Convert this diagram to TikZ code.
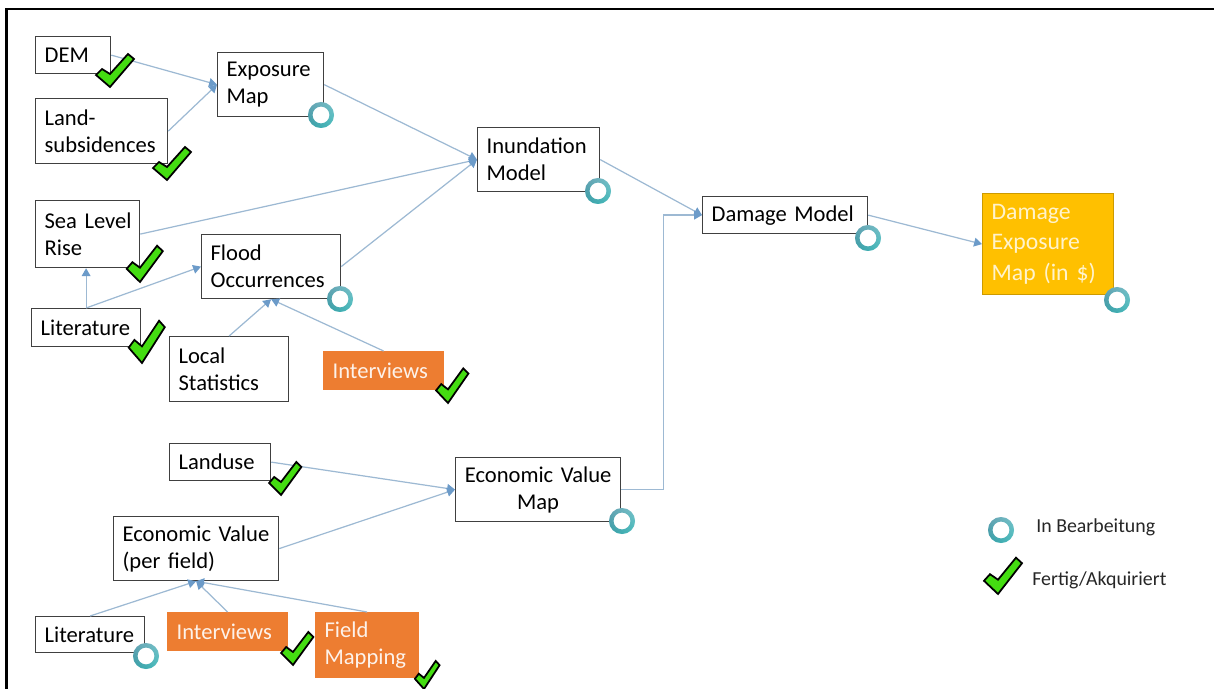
\documentclass[tikz,border=0pt]{standalone}
\usepackage{fontspec}
\setmainfont{Carlito}
\definecolor{linkblue}{HTML}{9DB9D3}
\definecolor{tipblue}{HTML}{6C9BC9}
\definecolor{boxorange}{HTML}{ED7D31}
\definecolor{boxgold}{HTML}{FFC000}
\definecolor{tickgreen}{HTML}{44DD11}
\definecolor{ringdark}{HTML}{2A8494}
\definecolor{ringlight}{HTML}{B0C8D8}
\definecolor{ringbottom}{HTML}{48BDBD}
\usetikzlibrary{arrows.meta}
\tikzset{
	box/.style 2 args={draw=black!75, fill=white, line width=.7pt, inner xsep=9*.02cm, inner ysep=0pt, align=left, anchor=north west,
		text width=(#1-18)*.02cm, minimum height=#2*.02cm, font=\fontsize{12.85}{15.4}\selectfont},
	orangebox/.style={fill=boxorange, draw=boxorange, text=white!90!boxorange},
	goldbox/.style={fill=boxgold, draw=boxgold!80!black, text=white!80!boxgold},
	link/.style={draw=linkblue, line width=.7pt, -{Stealth[inset=0pt,length=4.5pt,width=5pt,color=tipblue]}},
	tick/.pic={\filldraw[fill=tickgreen, draw=black, line width=1pt, line join=miter]
		(0,0) -- (-14,-12) -- (-8,-18) -- (0,-13) -- (18,-33) -- (24,-28) -- cycle;},
	ring/.pic={\fill[white] (0,0) circle (9);
		\shade[even odd rule, top color=ringlight, bottom color=ringbottom] (0,0) circle (13) (0,0) circle (8.5);
		\shade[even odd rule, left color=ringdark, right color=ringbottom, opacity=.55] (0,0) circle (13) (0,0) circle (8.5);},
	legendtext/.style={font=\fontsize{11.3}{13}\selectfont, text=black!85, anchor=west, inner sep=0pt}
}
\begin{document}
\begin{tikzpicture}[x=.02cm, y=-.02cm]
	\useasboundingbox (0,0) rectangle (1214,689);
	\begin{scope}
		\clip (0,0) rectangle (1214,689);
		\draw[line width=1.2pt] (6.5,700) -- (6.5,9.3) -- (1220,9.3);

		% input boxes
		\node[box={75}{37}] (dem) at (35,36) {DEM};
		\node[box={132}{65}] (land) at (35,98) {Land-\\subsidences};
		\node[box={106}{64}] (exposure) at (217,52) {Exposure\\Map};
		\node[box={122}{64}] (inundation) at (477,127) {Inundation\\Model};
		\node[box={104}{67}] (sealevel) at (35,200) {Sea~Level\\Rise};
		\node[box={139}{64}] (flood) at (201,234) {Flood\\Occurrences};
		\node[box={109}{38}] (litone) at (31,308) {Literature};
		\node[box={119}{65}] (statistics) at (169,336) {Local\\Statistics};
		\node[box={120}{38},orangebox] (intone) at (323,351) {Interviews};

		% value boxes
		\node[box={101}{37}] (landuse) at (169,443) {Landuse};
		\node[box={165}{64},align=center] (valuemap) at (455,457) {Economic Value\\Map};
		\node[box={165}{64}] (value) at (113,516) {Economic Value\\(per field)};
		\node[box={109}{36}] (littwo) at (35,616) {Literature};
		\node[box={120}{38},orangebox] (inttwo) at (167,612) {Interviews};
		\node[box={103}{65},orangebox] (mapping) at (315,612) {Field\\Mapping};

		% results
		\node[box={165}{37}] (damage) at (702,196) {Damage Model};
		\node[box={131}{101},goldbox,font=\fontsize{13.5}{17.2}\selectfont] (result) at (982,193) {Damage\\Exposure\\Map (in \$)};

		\draw[link] (dem.east) -- (exposure.west);
		\draw[link] (land.east) -- (exposure.west);
		\draw[link] (exposure.east) -- (inundation.west);
		\draw[link] (sealevel.east) -- (inundation.west);
		\draw[link] (flood.east) -- (inundation.west);
		\draw[link] (inundation.east) -- (damage.west);
		\draw[link] (litone.north) -- (litone.north |- sealevel.south);
		\draw[link] (litone.north) -- (flood.west);
		\draw[link] (statistics.north) -- (flood.south);
		\draw[link] (intone.north) -- (flood.south);
		\draw[link] (landuse.east) -- (valuemap.west);
		\draw[link] (value.east) -- (valuemap.west);
		\draw[link] (valuemap.east) -- ++(42,0) |- (damage.west);
		\draw[link] (damage.east) -- (result.west);
		\draw[link] (littwo.north) -- (value.south);
		\draw[link] (inttwo.north) -- (value.south);
		\draw[link] (mapping.north) -- (value.south);

		\pic at (110,87) {tick};
		\pic at (167,180) {tick};
		\pic[xscale=.95,yscale=1.1] at (140,282) {tick};
		\pic[xscale=.95,yscale=1.28] at (142,363) {tick};
		\pic[xscale=.85,yscale=1.05] at (448,403) {tick};
		\pic[xscale=.85] at (281,495) {tick};
		\pic[xscale=.85] at (293,665) {tick};
		\pic[xscale=.65,yscale=.85] at (424,689) {tick};
		\pic[yscale=1.1] at (998,594) {tick};

		\pic at (321,115) {ring};
		\pic at (598,191) {ring};
		\pic at (340,299) {ring};
		\pic at (868,238) {ring};
		\pic at (1117,300) {ring};
		\pic at (622,521) {ring};
		\pic at (146,656) {ring};
		\pic at (1001,530) {ring};

		\node[legendtext] (working) at (1036,527) {In Bearbeitung};
		\node[legendtext] (finished) at (1032,580) {Fertig/Akquiriert};
	\end{scope}
\end{tikzpicture}
\end{document}
